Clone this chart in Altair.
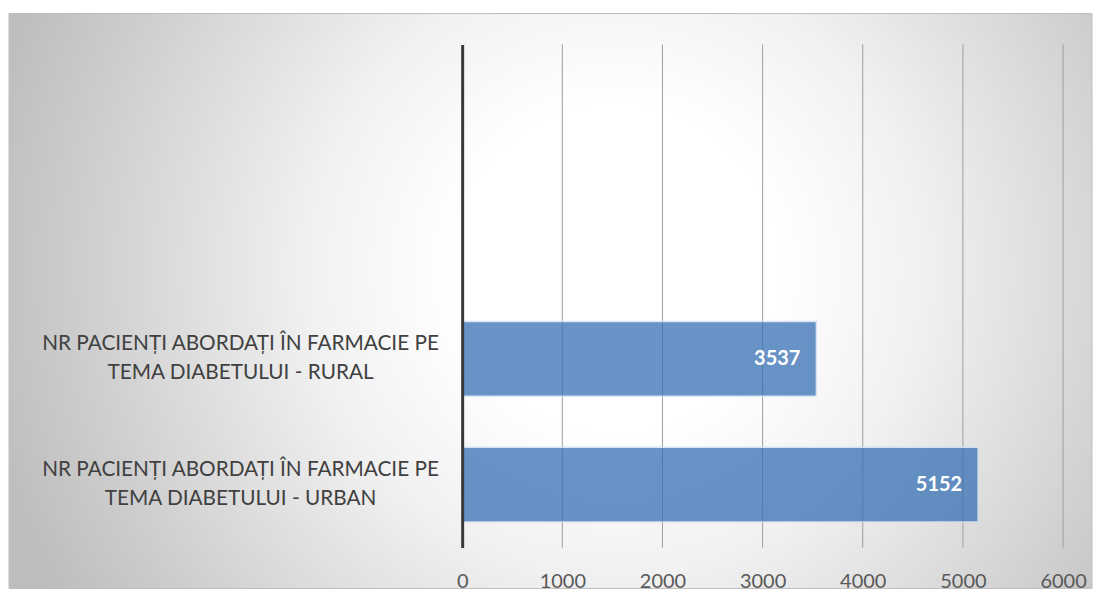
import altair as alt
import pandas as pd

categories = [
    "NR PACIENȚI ABORDAȚI ÎN FARMACIE PE\nTEMA DIABETULUI - RURAL",
    "NR PACIENȚI ABORDAȚI ÎN FARMACIE PE\nTEMA DIABETULUI - URBAN",
]
values = [3537, 5152]
empty_slots = ["", " "]
tick_values = [0, 1000, 2000, 3000, 4000, 5000, 6000]

df = pd.DataFrame({"cat": categories, "val": values})
ticks_df = pd.DataFrame({"t": tick_values[1:]})
y_domain = empty_slots + categories

W, H = 602, 504
FONT = "Lato"

x_scale = alt.Scale(domain=[0, 6000], nice=False)

bg = alt.Chart(alt.Data(values=[{"a": 1}])).mark_rect(
    color=alt.Gradient(
        gradient="radial",
        stops=[
            alt.GradientStop(color="#ffffff", offset=0),
            alt.GradientStop(color="#ffffff", offset=0.25),
            alt.GradientStop(color="#f1f1f1", offset=0.47),
            alt.GradientStop(color="#cacaca", offset=0.86),
            alt.GradientStop(color="#bdbdbd", offset=1),
        ],
        x1=0.56, y1=0.47, x2=0.56, y2=0.47, r1=0, r2=0.6,
    ),
    stroke="#bfbfbf",
    strokeWidth=1,
).encode(
    x=alt.value(-454), x2=alt.value(631), y=alt.value(-31), y2=alt.value(545)
)

grid = alt.Chart(ticks_df).mark_rule(color="#9e9e9e", strokeWidth=1).encode(
    x=alt.X("t:Q", scale=x_scale), y=alt.value(0), y2=alt.value(H)
)

y_enc = alt.Y(
    "cat:N",
    scale=alt.Scale(domain=y_domain, paddingInner=0.405, paddingOuter=0.2025),
    axis=alt.Axis(
        title=None, labels=False, ticks=False, grid=False,
        domain=True, domainColor="#3a3a3a", domainWidth=3, zindex=2,
    ),
)
x_enc = alt.X(
    "val:Q",
    scale=x_scale,
    axis=alt.Axis(
        title=None, values=tick_values, format="d", domain=False, ticks=False,
        grid=False, zindex=2, labelFlush=False, labelOverlap=False,
        labelFont=FONT, labelFontSize=20, labelColor="#595959",
        labelPadding=24, labelAngle=0,
    ),
)

bars = alt.Chart(df).mark_bar(
    color="#3770b4", opacity=0.75, stroke="#d0dcee", strokeWidth=1.5
).encode(x=x_enc, y=y_enc)

value_labels = alt.Chart(df).mark_text(
    align="right", baseline="middle", dx=-16, color="white",
    font=FONT, fontSize=20, fontWeight="bold",
).encode(x="val:Q", y="cat:N", text="val:Q")

cat_labels = alt.Chart(df).mark_text(
    align="center", baseline="middle", lineBreak="\n", lineHeight=29,
    dy=-15, font=FONT, fontSize=20.8, color="#404040",
).encode(x=alt.value(-222), y="cat:N", text="cat:N")

chart = alt.layer(bg, grid, bars, value_labels, cat_labels).properties(
    width=W, height=H,
    padding={"left": 0, "top": 4, "right": 0, "bottom": 0},
).configure_view(stroke=None).configure(background="white")

chart.save("out.html", embed_options={"renderer": "svg", "actions": False})
